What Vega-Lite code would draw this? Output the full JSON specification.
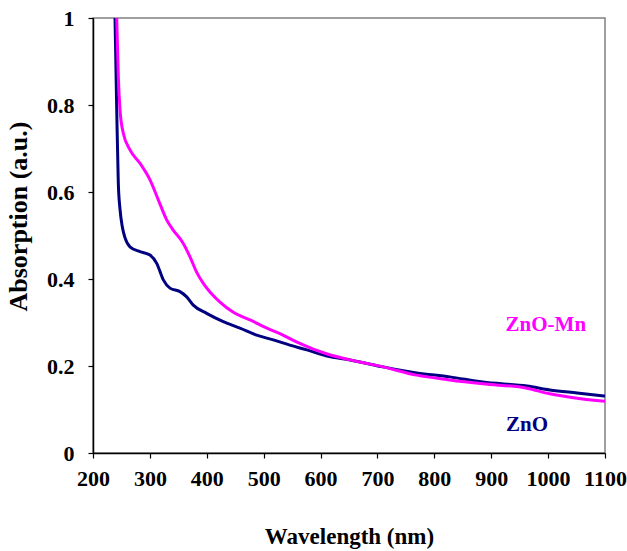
{
  "$schema": "https://vega.github.io/schema/vega-lite/v6.json",
  "width": 512,
  "height": 435,
  "autosize": {"type": "none"},
  "padding": {"left": 93, "top": 18, "right": 22, "bottom": 98},
  "background": "white",
  "config": {
    "font": "Liberation Serif",
    "view": {"stroke": "#808080", "strokeWidth": 1.5},
    "axis": {
      "grid": false,
      "domainColor": "black",
      "domainWidth": 1.5,
      "tickColor": "black",
      "tickWidth": 1.2,
      "tickSize": 5,
      "labelFont": "Liberation Serif",
      "labelFontWeight": "bold",
      "labelFontSize": 22,
      "labelColor": "black",
      "titleFont": "Liberation Serif",
      "titleFontWeight": "bold",
      "titleFontSize": 23,
      "titleColor": "black"
    }
  },
  "datasets": {
    "spectra": [
      {"wavelength": 238.7, "absorption": 1.0, "sample": "ZnO"},
      {"wavelength": 241.7, "absorption": 0.789, "sample": "ZnO"},
      {"wavelength": 244.5, "absorption": 0.62, "sample": "ZnO"},
      {"wavelength": 247.5, "absorption": 0.56, "sample": "ZnO"},
      {"wavelength": 251.5, "absorption": 0.52, "sample": "ZnO"},
      {"wavelength": 256.2, "absorption": 0.495, "sample": "ZnO"},
      {"wavelength": 265, "absorption": 0.474, "sample": "ZnO"},
      {"wavelength": 282.6, "absorption": 0.463, "sample": "ZnO"},
      {"wavelength": 300.2, "absorption": 0.455, "sample": "ZnO"},
      {"wavelength": 312, "absorption": 0.436, "sample": "ZnO"},
      {"wavelength": 323.6, "absorption": 0.398, "sample": "ZnO"},
      {"wavelength": 335.3, "absorption": 0.379, "sample": "ZnO"},
      {"wavelength": 352.9, "absorption": 0.371, "sample": "ZnO"},
      {"wavelength": 364.7, "absorption": 0.359, "sample": "ZnO"},
      {"wavelength": 376.3, "absorption": 0.34, "sample": "ZnO"},
      {"wavelength": 399.8, "absorption": 0.321, "sample": "ZnO"},
      {"wavelength": 429, "absorption": 0.302, "sample": "ZnO"},
      {"wavelength": 458.3, "absorption": 0.287, "sample": "ZnO"},
      {"wavelength": 487.7, "absorption": 0.271, "sample": "ZnO"},
      {"wavelength": 516.9, "absorption": 0.26, "sample": "ZnO"},
      {"wavelength": 546, "absorption": 0.248, "sample": "ZnO"},
      {"wavelength": 576, "absorption": 0.237, "sample": "ZnO"},
      {"wavelength": 611, "absorption": 0.223, "sample": "ZnO"},
      {"wavelength": 652, "absorption": 0.214, "sample": "ZnO"},
      {"wavelength": 710, "absorption": 0.198, "sample": "ZnO"},
      {"wavelength": 769, "absorption": 0.184, "sample": "ZnO"},
      {"wavelength": 827, "absorption": 0.175, "sample": "ZnO"},
      {"wavelength": 885, "absorption": 0.163, "sample": "ZnO"},
      {"wavelength": 963, "absorption": 0.154, "sample": "ZnO"},
      {"wavelength": 1003, "absorption": 0.145, "sample": "ZnO"},
      {"wavelength": 1051, "absorption": 0.138, "sample": "ZnO"},
      {"wavelength": 1100, "absorption": 0.131, "sample": "ZnO"},
      {"wavelength": 241.7, "absorption": 1.0, "sample": "ZnO-Mn"},
      {"wavelength": 244.5, "absorption": 0.865, "sample": "ZnO-Mn"},
      {"wavelength": 247.5, "absorption": 0.789, "sample": "ZnO-Mn"},
      {"wavelength": 253.3, "absorption": 0.735, "sample": "ZnO-Mn"},
      {"wavelength": 265, "absorption": 0.697, "sample": "ZnO-Mn"},
      {"wavelength": 282.6, "absorption": 0.666, "sample": "ZnO-Mn"},
      {"wavelength": 300.2, "absorption": 0.628, "sample": "ZnO-Mn"},
      {"wavelength": 314.8, "absorption": 0.582, "sample": "ZnO-Mn"},
      {"wavelength": 329.5, "absorption": 0.536, "sample": "ZnO-Mn"},
      {"wavelength": 340.6, "absorption": 0.513, "sample": "ZnO-Mn"},
      {"wavelength": 358.2, "absorption": 0.483, "sample": "ZnO-Mn"},
      {"wavelength": 370.5, "absorption": 0.451, "sample": "ZnO-Mn"},
      {"wavelength": 382.8, "absorption": 0.414, "sample": "ZnO-Mn"},
      {"wavelength": 393.3, "absorption": 0.391, "sample": "ZnO-Mn"},
      {"wavelength": 405.6, "absorption": 0.37, "sample": "ZnO-Mn"},
      {"wavelength": 423.2, "absorption": 0.347, "sample": "ZnO-Mn"},
      {"wavelength": 446, "absorption": 0.324, "sample": "ZnO-Mn"},
      {"wavelength": 476, "absorption": 0.306, "sample": "ZnO-Mn"},
      {"wavelength": 505.8, "absorption": 0.287, "sample": "ZnO-Mn"},
      {"wavelength": 534, "absorption": 0.271, "sample": "ZnO-Mn"},
      {"wavelength": 558.5, "absorption": 0.255, "sample": "ZnO-Mn"},
      {"wavelength": 613, "absorption": 0.227, "sample": "ZnO-Mn"},
      {"wavelength": 652, "absorption": 0.214, "sample": "ZnO-Mn"},
      {"wavelength": 710, "absorption": 0.198, "sample": "ZnO-Mn"},
      {"wavelength": 769, "absorption": 0.179, "sample": "ZnO-Mn"},
      {"wavelength": 827, "absorption": 0.168, "sample": "ZnO-Mn"},
      {"wavelength": 885, "absorption": 0.159, "sample": "ZnO-Mn"},
      {"wavelength": 963, "absorption": 0.149, "sample": "ZnO-Mn"},
      {"wavelength": 1003, "absorption": 0.136, "sample": "ZnO-Mn"},
      {"wavelength": 1051, "absorption": 0.126, "sample": "ZnO-Mn"},
      {"wavelength": 1100, "absorption": 0.119, "sample": "ZnO-Mn"}
    ],
    "labels": [
      {"wavelength": 996, "absorption": 0.294, "sample": "ZnO-Mn"},
      {"wavelength": 963, "absorption": 0.064, "sample": "ZnO"}
    ]
  },
  "layer": [
    {
      "data": {"name": "spectra"},
      "mark": {"type": "line", "strokeWidth": 3, "clip": true, "interpolate": "monotone"},
      "encoding": {
        "x": {
          "field": "wavelength",
          "type": "quantitative",
          "scale": {"domain": [200, 1100], "nice": false},
          "axis": {
            "values": [200, 250, 300, 350, 400, 450, 500, 550, 600, 650, 700, 750, 800, 850, 900, 950, 1000, 1050, 1100],
            "labelExpr": "datum.value % 100 === 0 ? datum.value : ''",
            "labelPadding": 10,
            "labelFlush": false,
            "labelOverlap": false,
            "title": "Wavelength (nm)",
            "titleX": 256,
            "titleY": 83,
            "titleBaseline": "middle",
            "titleAlign": "center"
          }
        },
        "y": {
          "field": "absorption",
          "type": "quantitative",
          "scale": {"domain": [0, 1], "nice": false},
          "axis": {
            "values": [0, 0.2, 0.4, 0.6, 0.8, 1],
            "labelExpr": "datum.value === 0 ? '0' : datum.value === 1 ? '1' : format(datum.value, '.1f')",
            "labelPadding": 14,
            "labelFlush": false,
            "title": "Absorption (a.u.)",
            "titleFontSize": 26,
            "titleX": -75,
            "titleY": 198,
            "titleAngle": -90,
            "titleBaseline": "middle",
            "titleAlign": "center"
          }
        },
        "color": {
          "field": "sample",
          "type": "nominal",
          "scale": {"domain": ["ZnO", "ZnO-Mn"], "range": ["#000080", "#FF00FF"]},
          "legend": null
        }
      }
    },
    {
      "data": {"name": "labels"},
      "mark": {"type": "text", "font": "Liberation Serif", "fontWeight": "bold", "fontSize": 21, "align": "center", "baseline": "middle"},
      "encoding": {
        "x": {"field": "wavelength", "type": "quantitative"},
        "y": {"field": "absorption", "type": "quantitative"},
        "text": {"field": "sample"},
        "color": {"field": "sample", "type": "nominal", "legend": null}
      }
    }
  ]
}
